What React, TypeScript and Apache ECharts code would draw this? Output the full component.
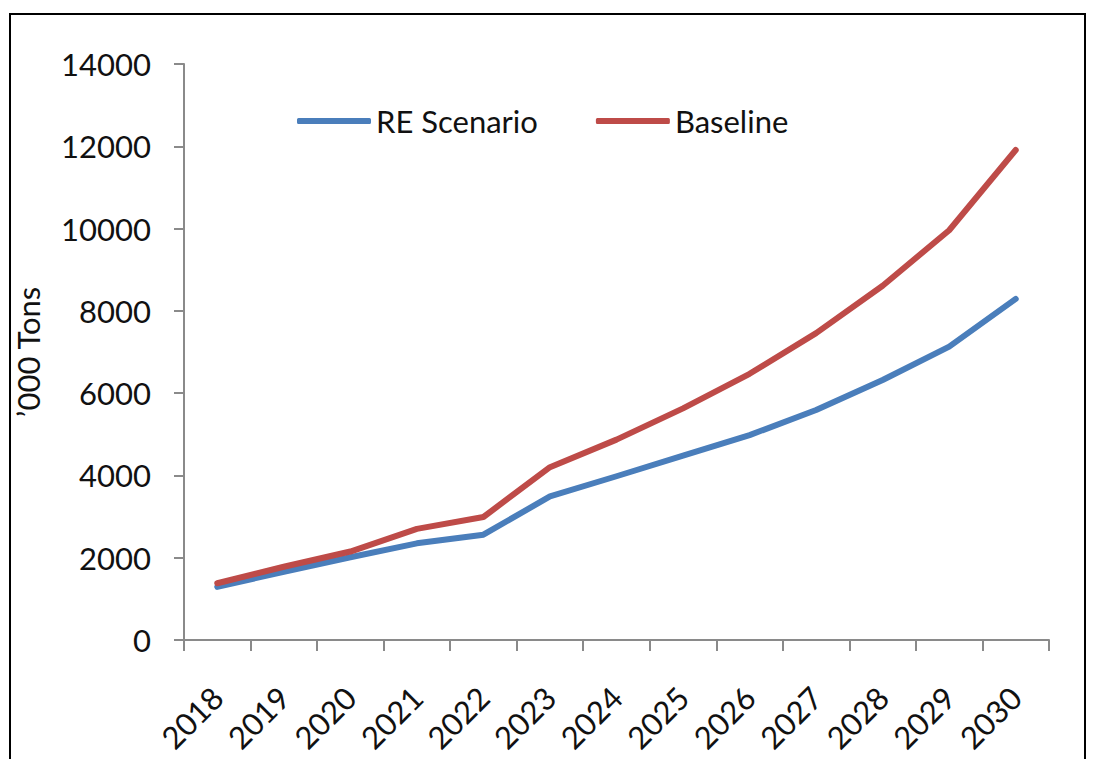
import React, { useEffect, useRef } from "react";
import * as echarts from "echarts";

const years = ["2018", "2019", "2020", "2021", "2022", "2023", "2024", "2025", "2026", "2027", "2028", "2029", "2030"];
const reScenario = [1290, 1660, 2010, 2350, 2560, 3490, 3980, 4480, 4980, 5590, 6320, 7130, 8290];
const baseline = [1380, 1780, 2150, 2700, 2990, 4200, 4870, 5630, 6470, 7460, 8610, 9960, 11910];
const seriesNames = ["RE Scenario", "Baseline"];
const yAxisName = "\u2019000 Tons";

const FONT = "Lato, 'Open Sans', sans-serif";
const FS = 31;
const BLUE = "#4A7EBB";
const RED = "#BE4B48";
const AXIS = "#8A8A8A";

export default function App() {
  const ref = useRef<HTMLDivElement>(null);
  useEffect(() => {
    if (!ref.current) return;
    const chart = echarts.init(ref.current, null, { renderer: "svg" });
    chart.setOption({
      animation: false,
      backgroundColor: "#ffffff",
      textStyle: { fontFamily: FONT },
      graphic: [
        {
          type: "rect",
          shape: { x: 10, y: 14, width: 1075, height: 800 },
          style: { fill: "none", stroke: "#000", lineWidth: 2 },
          silent: true,
        },
      ],
      legend: {
        data: seriesNames.map((n) => ({ name: n, icon: "roundRect" })),
        left: 292,
        top: 100,
        itemWidth: 74,
        itemHeight: 6,
        itemGap: 58,
        textStyle: { fontFamily: FONT, fontSize: FS, color: "#111", lineHeight: 32 },
      },
      grid: { left: 184, right: 46, top: 64, bottom: 119 },
      xAxis: {
        type: "category",
        data: years,
        boundaryGap: true,
        axisLine: { show: true, lineStyle: { color: AXIS, width: 2 } },
        axisTick: { show: true, length: 11, lineStyle: { color: AXIS, width: 2 } },
        axisLabel: {
          rotate: 45,
          margin: 52,
          fontFamily: FONT,
          fontSize: FS,
          color: "#111",
          interval: 0,
        },
      },
      yAxis: {
        type: "value",
        min: 0,
        max: 14000,
        interval: 2000,
        name: yAxisName,
        nameLocation: "middle",
        nameGap: 141,
        nameTextStyle: { fontFamily: FONT, fontSize: FS, color: "#111" },
        axisLine: { show: true, lineStyle: { color: AXIS, width: 2 } },
        axisTick: { show: true, length: 10, lineStyle: { color: AXIS, width: 2 } },
        splitLine: { show: false },
        axisLabel: {
          margin: 33,
          fontFamily: FONT,
          fontSize: FS,
          color: "#111",
          formatter: (v: number) => String(v),
        },
      },
      series: [
        {
          name: seriesNames[0],
          type: "line",
          data: reScenario,
          symbol: "none",
          color: BLUE,
          lineStyle: { color: BLUE, width: 6, cap: "round", join: "round" },
        },
        {
          name: seriesNames[1],
          type: "line",
          data: baseline,
          symbol: "none",
          color: RED,
          lineStyle: { color: RED, width: 6, cap: "round", join: "round" },
        },
      ],
    });
    return () => chart.dispose();
  }, []);
  return (
    <div
      ref={ref}
      style={{ position: "fixed", left: 0, top: 0, width: 1095, height: 759, background: "#fff" }}
    />
  );
}
